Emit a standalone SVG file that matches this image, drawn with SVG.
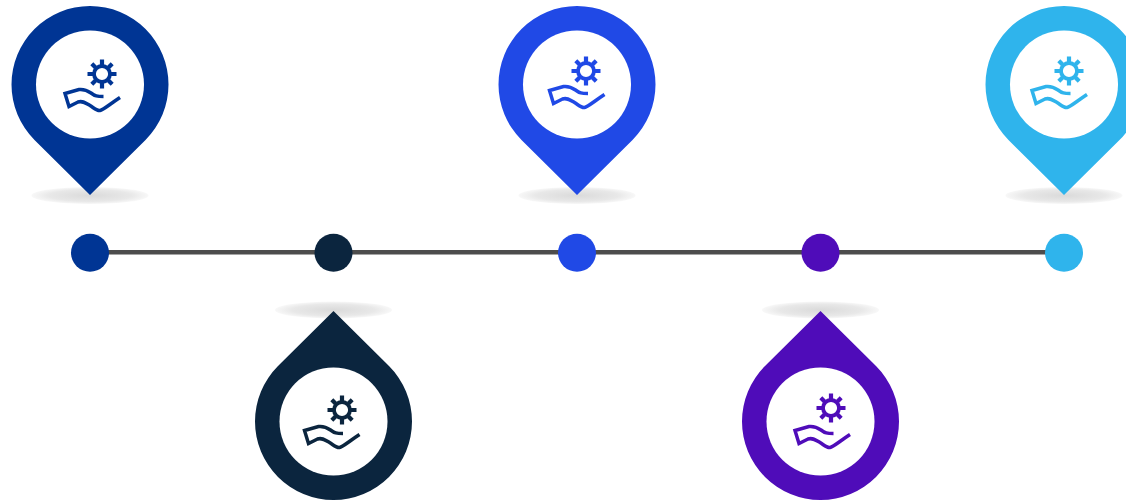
<svg xmlns="http://www.w3.org/2000/svg" width="1126" height="501" viewBox="0 0 1126 501">
<style>.hand{fill:none;stroke:currentColor;stroke-width:3.500}.ring{fill:none;stroke:currentColor;stroke-width:3.800}.tooth{fill:none;stroke:currentColor;stroke-width:4.200}.face{fill:#fff}.shadow{fill:url(#sh)}.line{stroke:#4d4d4d;stroke-width:4.500}</style>
<defs>
<radialGradient id="sh"><stop offset="0" stop-color="#dadada"/><stop offset="0.7" stop-color="#e8e8e8"/><stop offset="1" stop-color="#f8f8f8"/></radialGradient>
<g id="gear"><circle class="ring" r="8"/><path class="tooth" d="M0-14.500V-9M0 14.500V9M-14.500 0H-9M14.500 0H9M-10.200-10.200L-6.500-6.500M10.200 10.200L6.500 6.500M-10.200 10.200L-6.500 6.500M10.200-10.200L6.500-6.500"/></g>
<path id="hand" class="hand" d="M103.500 96.500C97 96.500 95 96 91 93C86 89.500 83 89 79 89.500L65 93.500L69 106.500L78 102C82 100.500 85 102.500 90 105.500C94 108 97 111 100 110.500C103 110 110 104 120 97.500"/>
<path id="pin" d="M0 110.500L-55.500 55.500A78.500 78.500 0 1 1 55.500 55.500Z"/>
</defs>
<g id="connectors"><line class="line" x1="90" y1="252.300" x2="1064" y2="252.300"/></g>
<g id="dot-1"><circle cx="90" cy="252.800" r="19" fill="#003594"/></g>
<g id="dot-2"><circle cx="333.500" cy="252.800" r="19" fill="#0b253e"/></g>
<g id="dot-3"><circle cx="577" cy="252.800" r="19" fill="#2049e6"/></g>
<g id="dot-4"><circle cx="820.500" cy="252.800" r="19" fill="#4f0cb9"/></g>
<g id="dot-5"><circle cx="1064" cy="252.800" r="19" fill="#2fb4ec"/></g>
<g id="pin-1" color="#003594">
<ellipse class="shadow" cx="90" cy="195.500" rx="58.500" ry="8.500"/>
<use href="#pin" transform="translate(90 84.500)" fill="#003594"/><circle class="face" cx="90" cy="84.500" r="54"/>
<use href="#gear" transform="translate(102 74)"/><use href="#hand"/></g>
<g id="pin-2" color="#0b253e">
<ellipse class="shadow" cx="333.500" cy="310" rx="58.500" ry="8.500"/>
<use href="#pin" transform="translate(333.500 421.500) scale(1 -1)" fill="#0b253e"/><circle class="face" cx="333.500" cy="421.500" r="54"/>
<use href="#gear" transform="translate(342 410)"/><use href="#hand" transform="translate(239.500 337)"/></g>
<g id="pin-3" color="#2049e6">
<ellipse class="shadow" cx="577" cy="195.500" rx="58.500" ry="8.500"/>
<use href="#pin" transform="translate(577 84.500)" fill="#2049e6"/><circle class="face" cx="577" cy="84.500" r="54"/>
<use href="#gear" transform="translate(586 71)"/><use href="#hand" transform="translate(484.500 -3)"/></g>
<g id="pin-4" color="#4f0cb9">
<ellipse class="shadow" cx="820.500" cy="310" rx="58.500" ry="8.500"/>
<use href="#pin" transform="translate(820.500 421.500) scale(1 -1)" fill="#4f0cb9"/><circle class="face" cx="820.500" cy="421.500" r="54"/>
<use href="#gear" transform="translate(831 408)"/><use href="#hand" transform="translate(730 337)"/></g>
<g id="pin-5" color="#2fb4ec">
<ellipse class="shadow" cx="1064" cy="195.500" rx="58.500" ry="8.500"/>
<use href="#pin" transform="translate(1064 84.500)" fill="#2fb4ec"/><circle class="face" cx="1064" cy="84.500" r="54"/>
<use href="#gear" transform="translate(1069 71)"/><use href="#hand" transform="translate(967 -3)"/></g>
</svg>
